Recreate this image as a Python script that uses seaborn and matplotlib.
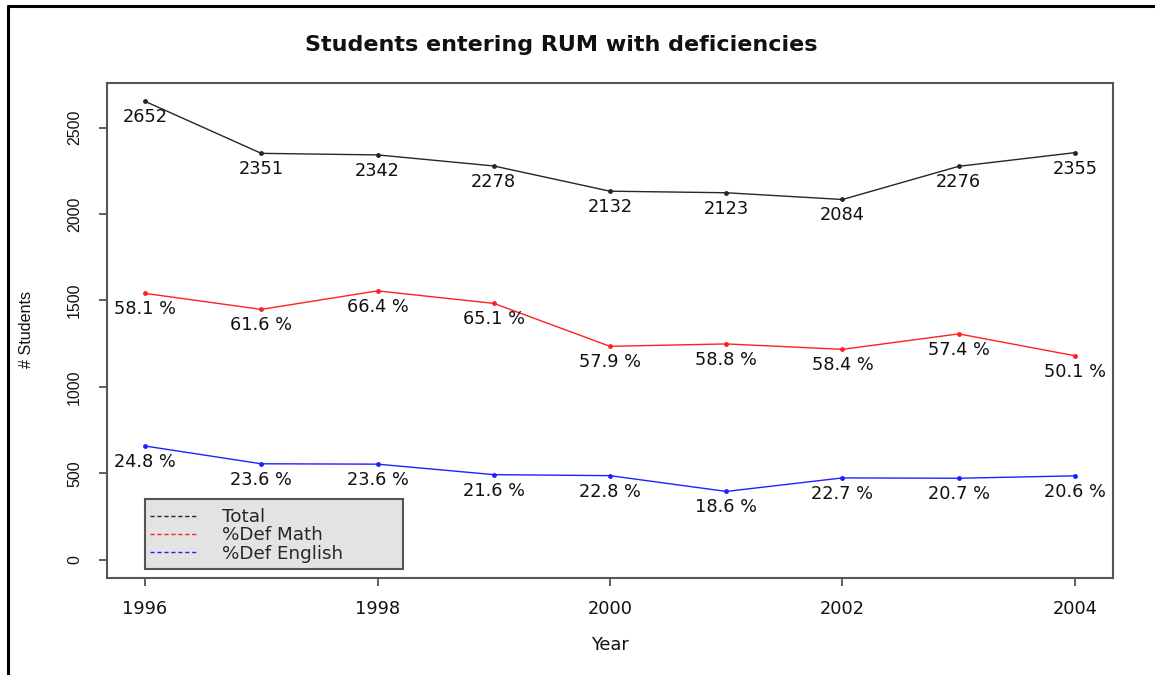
import numpy as np
import pandas as pd
import matplotlib
matplotlib.use("Agg")
import matplotlib.pyplot as plt
from matplotlib.lines import Line2D
from matplotlib.patches import Rectangle
import seaborn as sns

# Incoming students per year and the share with deficiencies
years = [1996, 1997, 1998, 1999, 2000, 2001, 2002, 2003, 2004]
total_students = [2652, 2351, 2342, 2278, 2132, 2123, 2084, 2276, 2355]
pct_def_math = [58.1, 61.6, 66.4, 65.1, 57.9, 58.8, 58.4, 57.4, 50.1]
pct_def_english = [24.8, 23.6, 23.6, 21.6, 22.8, 18.6, 22.7, 20.7, 20.6]

series_names = ["Total", "%Def Math", "%Def English"]
series_colors = ["#262626", "#ff2020", "#2020ff"]

total_arr = np.array(total_students, dtype=float)
math_counts = total_arr * np.array(pct_def_math) / 100.0
eng_counts = total_arr * np.array(pct_def_english) / 100.0

df = pd.concat([
    pd.DataFrame({"Year": years, "Students": total_arr, "series": series_names[0],
                  "label": [str(v) for v in total_students]}),
    pd.DataFrame({"Year": years, "Students": math_counts, "series": series_names[1],
                  "label": [f"{v:.1f} %" for v in pct_def_math]}),
    pd.DataFrame({"Year": years, "Students": eng_counts, "series": series_names[2],
                  "label": [f"{v:.1f} %" for v in pct_def_english]}),
], ignore_index=True)

sns.set_style("ticks")
plt.rcParams["font.family"] = ["DejaVu Sans"]

TXT = "#111111"
fig = plt.figure(figsize=(11.55, 6.75), dpi=100)
W, H = 1155, 675
ax = fig.add_axes([107 / W, 1 - 578 / H, (1113 - 107) / W, (578 - 83) / H])

sns.lineplot(data=df, x="Year", y="Students", hue="series", hue_order=series_names,
             palette=dict(zip(series_names, series_colors)), marker="o",
             markersize=3.5, markeredgewidth=0, linewidth=1.0, legend=False, ax=ax)

for _, row in df.iterrows():
    ax.annotate(row["label"], (row["Year"], row["Students"]), xytext=(0, -16),
                textcoords="offset pixels", ha="center", va="center",
                fontsize=12.8, color=TXT)

ax.set_xlim(1995.673, 2004.327)
ax.set_ylim(-106, 2758)
ax.set_xticks([1996, 1998, 2000, 2002, 2004])
ax.set_yticks([0, 500, 1000, 1500, 2000, 2500])
ax.set_yticklabels(["0", "500", "1000", "1500", "2000", "2500"], rotation=90, va="center",
                   family="Liberation Sans", fontsize=11.5)
ax.tick_params(axis="both", length=6, width=1.2, color="#444444", labelcolor=TXT)
ax.tick_params(axis="x", pad=10, labelsize=12.8)
ax.tick_params(axis="y", pad=12)
for sp in ax.spines.values():
    sp.set_visible(True)
    sp.set_color("#555555")
    sp.set_linewidth(1.5)

ax.set_xlabel("Year", fontsize=12.8, color=TXT)
ax.xaxis.set_label_coords(0.5, -(636 - 578) / 495)
ax.set_ylabel("# Students", fontsize=11.6, color=TXT, family="Liberation Sans")
ax.yaxis.set_label_coords(-(107 - 34) / 1006, (578 - 329) / 495)

fig.text(561 / W, 1 - 45 / H, "Students entering RUM with deficiencies",
         ha="center", va="center", fontsize=16, fontweight="bold", color=TXT)

# Legend: grey box with dashed line keys
ax.add_patch(Rectangle(((145 - 107) / 1006, (578 - 569) / 495), 258 / 1006, 70 / 495,
                       transform=ax.transAxes, facecolor="#e3e3e3", edgecolor="#555555",
                       linewidth=1.5, zorder=4))
handles = [Line2D([0], [0], color=c, linestyle=(0, (3, 2)), linewidth=1.0)
           for c in series_colors]
leg = ax.legend(handles, series_names, loc="upper left",
                bbox_to_anchor=((150 - 107) / 1006, (578 - 508) / 495),
                fontsize=13.2, frameon=False, handlelength=2.6,
                handletextpad=1.3, labelspacing=0.02, borderpad=0.0,
                borderaxespad=0)
leg.set_zorder(5)

# Page border on the top and left edges
fig.add_artist(Line2D([8 / W, 1.0], [1 - 6 / H, 1 - 6 / H], transform=fig.transFigure,
                      color="black", linewidth=2.2))
fig.add_artist(Line2D([8 / W, 8 / W], [0.0, 1 - 6 / H], transform=fig.transFigure,
                      color="black", linewidth=2.2))

fig.savefig("out.png", dpi=100, facecolor="white")
